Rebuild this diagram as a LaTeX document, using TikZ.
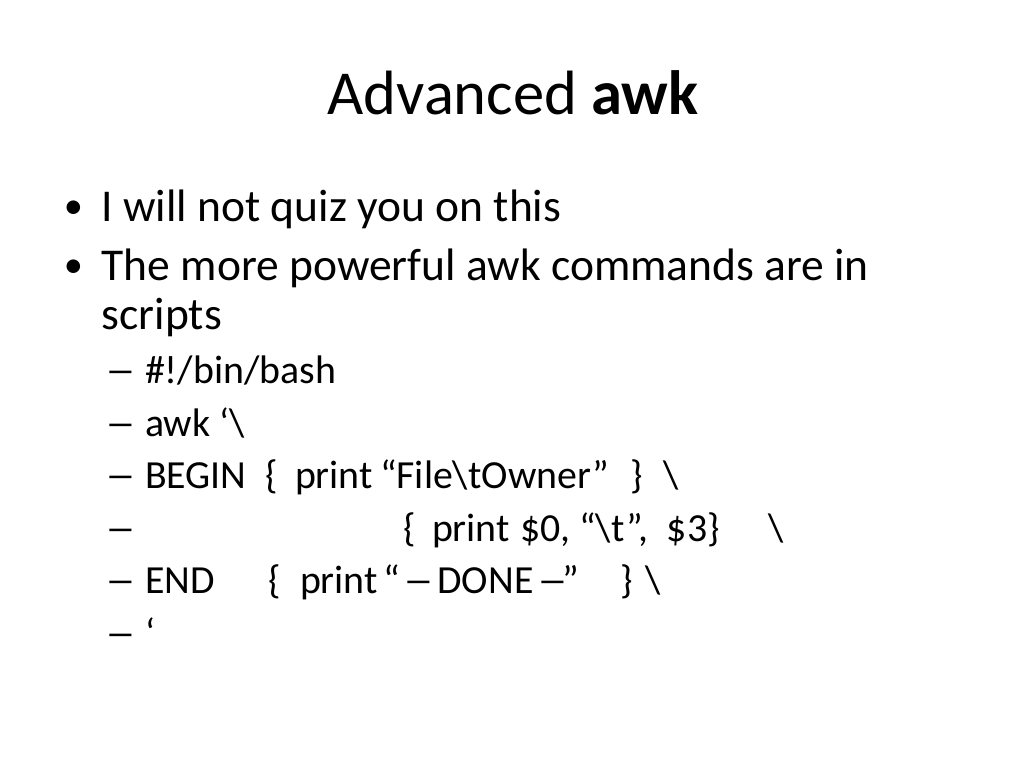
\documentclass[tikz,border=0pt]{standalone}
\usepackage{fontspec}
\setmainfont{Carlito}
\newcommand\wdash{\setbox0\hbox{–}\hbox to \wd0{\hss\scalebox{1.55}[1]{–}\hss}}
\begin{document}
\begin{tikzpicture}[x=0.703125pt,y=-0.703125pt,
  txt/.style={anchor=base west,inner sep=0pt,outer sep=0pt,text=black},
  ttl/.style={anchor=base,inner sep=0pt,font=\fontsize{44pt}{53pt}\selectfont},
  lvl/.style={txt,font=\fontsize{32pt}{38pt}\selectfont},
  sub/.style={txt,font=\fontsize{28pt}{34pt}\selectfont},
  bul/.style={anchor=base,inner sep=0pt,font=\fontsize{27pt}{32pt}\selectfont}]
\useasboundingbox[fill=white] (0,0) rectangle (1024,768);
% title
\node[ttl] (title) at (513,115) {Advanced \textbf{awk}};
% level 1
\node[bul] (b1) at (73.5,219) {•};
\node[lvl] (t1) at (101.7,221.7) {I will not quiz you on this};
\node[bul] (b2) at (73.5,278) {•};
\node[lvl] (t2) at (101.7,280.7) {The more powerful awk commands are in};
\node[lvl] (t2b) at (101.7,330) {scripts};
% level 2
\node[sub] (d1) at (111,383.5) {\wdash};
\node[sub] (s1) at (145,383.5) {\#!/bin/bash};
\node[sub] (d2) at (111,436) {\wdash};
\node[sub] (s2) at (145,436) {awk ‘\textbackslash};
\node[sub] (d3) at (111,488.5) {\wdash};
\node[sub] (s3a) at (145,488.5) {BEGIN};
\node[sub] (s3b) at (265,488.5) {\{};
\node[sub] (s3c) at (295,488.5) {print};
\node[sub] (s3d) at (380,488.5) {“File\textbackslash tOwner”};
\node[sub] (s3e) at (630,488.5) {\}};
\node[sub] (s3f) at (663,488.5) {\textbackslash};
\node[sub] (d4) at (111,541) {\wdash};
\node[sub] (s4a) at (403,541) {\{};
\node[sub] (s4b) at (432,541) {print};
\node[sub] (s4c) at (520,541) {\$0, “\textbackslash t”,\ \ \$3\}};
\node[sub] (s4e) at (768,541) {\textbackslash};
\node[sub] (d5) at (111,593.5) {\wdash};
\node[sub] (s5a) at (145,593.5) {END};
\node[sub] (s5b) at (268,593.5) {\{};
\node[sub] (s5c) at (300,593.5) {print};
\node[sub] (s5d) at (383,593.5) {“ \wdash\ DONE \wdash”};
\node[sub] (s5e) at (620,593.5) {\}};
\node[sub] (s5f) at (645,593.5) {\textbackslash};
\node[sub] (d6) at (111,646) {\wdash};
\node[sub] (s6) at (145,646) {‘};
\end{tikzpicture}
\end{document}
